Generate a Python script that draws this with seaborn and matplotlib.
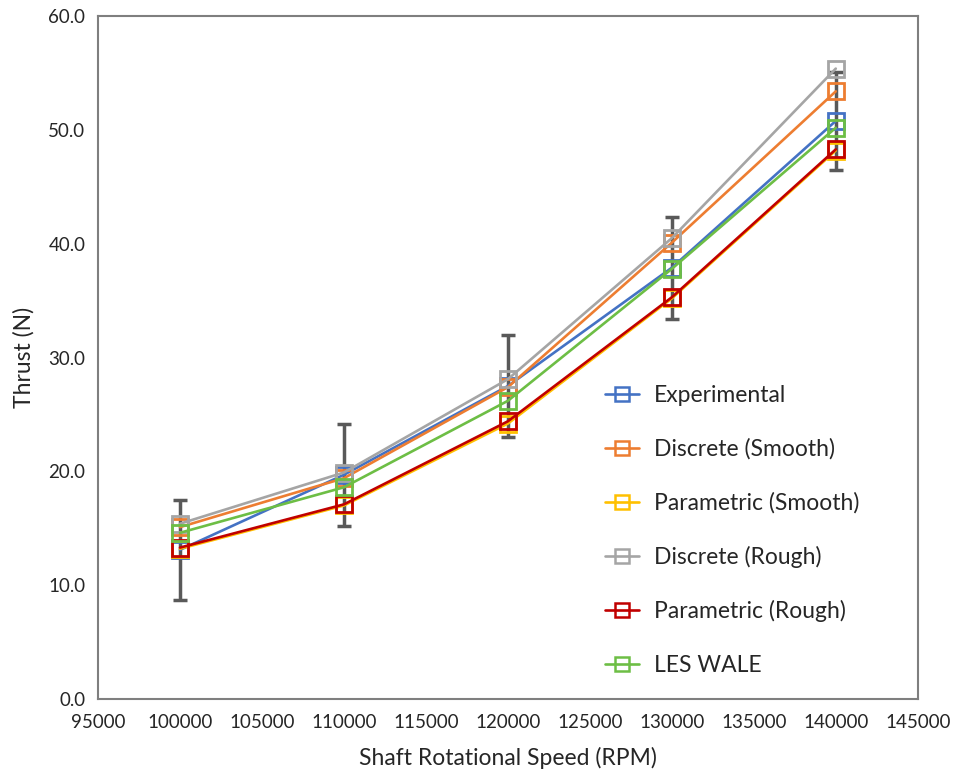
import matplotlib
matplotlib.use("Agg")
import matplotlib.pyplot as plt
import seaborn as sns
import pandas as pd
import numpy as np

rpm = [100000, 110000, 120000, 130000, 140000]
experimental = [13.1, 19.7, 27.5, 37.9, 50.8]
exp_err = [4.4, 4.5, 4.5, 4.5, 4.3]
discrete_smooth = [15.1, 19.4, 27.4, 40.1, 53.4]
parametric_smooth = [13.2, 17.0, 24.2, 35.2, 48.2]
discrete_rough = [15.4, 19.9, 28.1, 40.5, 55.4]
parametric_rough = [13.3, 17.1, 24.4, 35.3, 48.3]
les_wale = [14.6, 18.6, 26.2, 37.8, 50.2]

series_names = ["Experimental", "Discrete (Smooth)", "Parametric (Smooth)",
                "Discrete (Rough)", "Parametric (Rough)", "LES WALE"]
series_values = [experimental, discrete_smooth, parametric_smooth,
                 discrete_rough, parametric_rough, les_wale]
colors = ["#4472C4", "#ED7D31", "#FFC000", "#A5A5A5", "#C00000", "#6DBE45"]

x_ticks = list(range(95000, 145001, 5000))
y_ticks = [0, 10, 20, 30, 40, 50, 60]

df = pd.DataFrame({
    "RPM": np.tile(rpm, len(series_names)),
    "Thrust": np.concatenate(series_values),
    "Series": np.repeat(series_names, len(rpm)),
})

sns.set_theme(style="white")
plt.rcParams["font.family"] = ["Lato", "DejaVu Sans"]

fig = plt.figure(figsize=(9.56, 7.74), dpi=100)
ax = fig.add_axes([0.1025, 0.097, 0.8575, 0.882])

sns.lineplot(data=df, x="RPM", y="Thrust", hue="Series", hue_order=series_names,
             palette=colors, marker="s", markersize=12, markerfacecolor="none",
             markeredgewidth=2, linewidth=1.9, ax=ax, legend=False, zorder=2)
series_lines = list(ax.lines)
for line, c in zip(series_lines, colors):
    line.set_markeredgecolor(c)
    line.set_markerfacecolor("none")

ax.errorbar(rpm, experimental, yerr=exp_err, fmt="none", ecolor="#595959",
            elinewidth=2.5, capsize=5, capthick=2.5, zorder=1.5)

handles = [plt.Line2D([], [], color=c, marker="s", markersize=10,
                      markerfacecolor="none", markeredgewidth=1.8, linewidth=1.9)
           for c in colors]
ax.legend(handles, series_names, loc="center left", bbox_to_anchor=(0.618, 0.247),
          frameon=False, fontsize=16.5, labelspacing=1.41, handlelength=1.5,
          handletextpad=0.65, borderpad=0, borderaxespad=0)

ax.set_xlim(95000, 145000)
ax.set_ylim(0, 60)
ax.set_xticks(x_ticks)
ax.set_yticks(y_ticks)
ax.set_yticklabels([f"{v:.1f}" for v in y_ticks])
ax.set_xticklabels([str(v) for v in x_ticks])
ax.tick_params(axis="both", labelsize=13.5, colors="#262626", length=0)
ax.tick_params(axis="x", pad=11)
ax.tick_params(axis="y", pad=9)
for s in ax.spines.values():
    s.set_color("#7F7F7F")
    s.set_linewidth(1.5)
ax.set_xlabel("Shaft Rotational Speed (RPM)", fontsize=16.5, color="#262626", labelpad=11)
ax.set_ylabel("Thrust (N)", fontsize=16.5, color="#262626", labelpad=10)

fig.savefig("out.png", dpi=100)
